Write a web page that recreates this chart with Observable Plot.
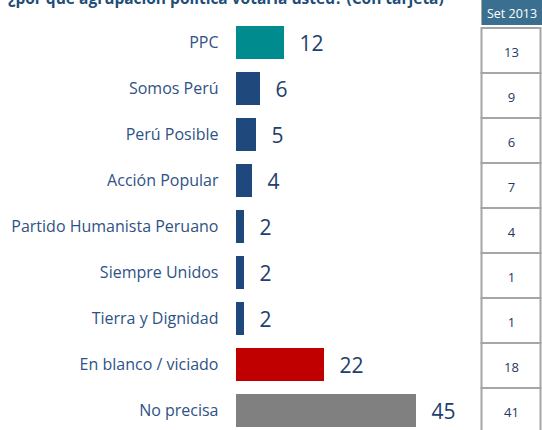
<!DOCTYPE html>
<html>
<head>
<meta charset="utf-8">
<script src="https://cdn.jsdelivr.net/npm/d3@7"></script>
<script src="https://cdn.jsdelivr.net/npm/@observablehq/plot@0.6"></script>
<style>
  html, body { margin: 0; padding: 0; background: #fff; }
  #wrap { position: relative; width: 542px; height: 430px; overflow: hidden; font-family: "Open Sans", sans-serif; }
  #title { position: absolute; left: 8px; top: -9.5px; font-weight: bold; font-size: 15.5px; line-height: 15.5px; color: #1F4E79; white-space: nowrap; }
  #main { position: absolute; left: 0; top: 0; }
  #table { position: absolute; left: 480px; top: 0; }
  #head { position: absolute; left: 481px; top: 0; width: 60px; height: 25px; background: #3B6F8F; color: #fff; font-size: 12.5px; line-height: 27px; text-align: center; border-left: 1px solid #A6A6A6; }
</style>
</head>
<body>
<div id="wrap">
  <div id="title">¿por qué agrupación política votaría usted? (Con tarjeta)</div>
  <div id="main"></div>
  <div id="table"></div>
  <div id="head">Set 2013</div>
</div>
<script>
const categories = ["PPC", "Somos Perú", "Perú Posible", "Acción Popular", "Partido Humanista Peruano", "Siempre Unidos", "Tierra y Dignidad", "En blanco / viciado", "No precisa"];
const values = [12, 6, 5, 4, 2, 2, 2, 22, 45];
const set2013 = [13, 9, 6, 7, 4, 1, 1, 18, 41];
const tableHeader = "Set 2013";

const palette = ["#008B8F", "#1F497D", "#1F497D", "#1F497D", "#1F497D", "#1F497D", "#1F497D", "#C00000", "#808080"];

const rows = categories.map((c, i) => ({cat: c, value: values[i], prev: set2013[i]}));

const main = Plot.plot({
  width: 542,
  height: 430,
  marginLeft: 236,
  marginRight: 0,
  marginTop: 0,
  marginBottom: 0,
  style: {fontFamily: "Open Sans, sans-serif", background: "transparent"},
  x: {domain: [0, 76.5], axis: null},
  y: {domain: categories, range: [22.7, 429.6], paddingInner: 0.282, paddingOuter: 0, align: 0.5, axis: null},
  color: {domain: categories, range: palette},
  marks: [
    Plot.barX(rows, {y: "cat", x: "value", fill: "cat"}),
    Plot.text(rows, {y: "cat", x: "value", text: d => String(d.value), textAnchor: "start", dx: 15, dy: 1.5, fontSize: 21, fill: "#22406F"}),
    Plot.axisY({tickSize: 0, tickPadding: 18, fontSize: 16, color: "#2F5286", label: null})
  ]
});
document.getElementById("main").appendChild(main);

const table = Plot.plot({
  width: 62,
  height: 430,
  margin: 0,
  style: {fontFamily: "Open Sans, sans-serif", background: "transparent"},
  x: {axis: null},
  y: {domain: categories, range: [25.5, 25.5 + 9 * 45.5], padding: 0, axis: null},
  marks: [
    Plot.cell(rows, {y: "cat", fill: "#fff", stroke: "#A6A6A6", strokeWidth: 2, insetLeft: 1.5, insetRight: 1.5}),
    Plot.text(rows, {y: "cat", text: d => String(d.prev), fontSize: 13, fill: "#1F3864", dy: 2})
  ]
});
document.getElementById("table").appendChild(table);
document.getElementById("head").textContent = tableHeader;
</script>
</body>
</html>
